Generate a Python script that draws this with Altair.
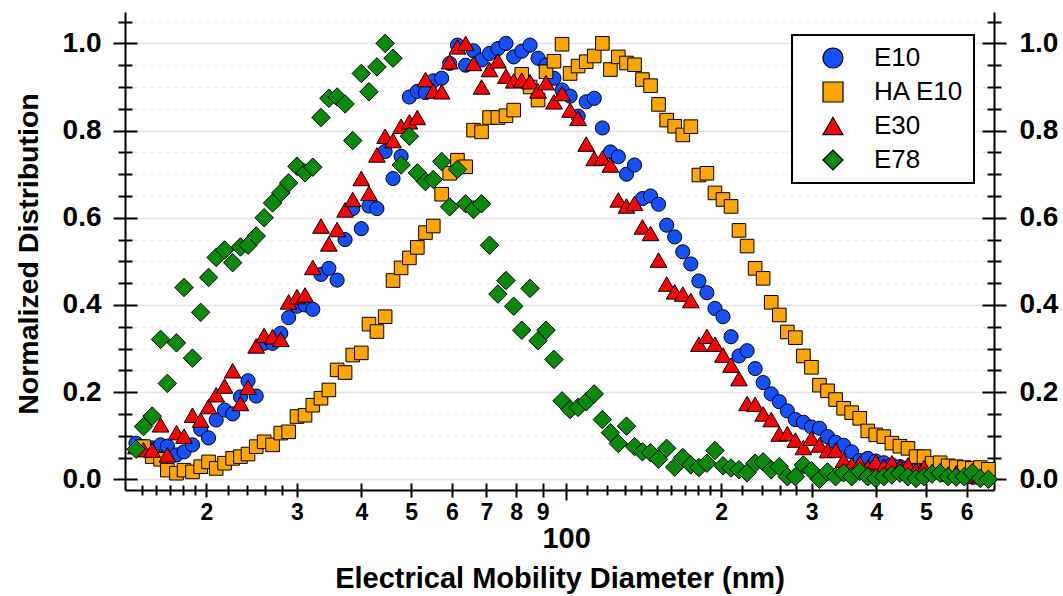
import altair as alt
import pandas as pd

# SMPS bin mid-point diameters (nm)
diameter_nm = [
    14.6, 15.1, 15.7, 16.3, 16.8, 17.5, 18.1, 18.8, 19.5, 20.2,
    20.9, 21.7, 22.5, 23.3, 24.1, 25.0, 25.9, 26.9, 27.9, 28.9,
    30.0, 31.1, 32.2, 33.4, 34.6, 35.9, 37.2, 38.5, 40.0, 41.4,
    42.9, 44.5, 46.1, 47.8, 49.6, 51.4, 53.3, 55.2, 57.3, 59.4,
    61.5, 63.8, 66.1, 68.5, 71.0, 73.7, 76.4, 79.1, 82.0, 85.1,
    88.2, 91.4, 94.7, 98.2, 101.8, 105.5, 109.4, 113.4, 117.6, 121.9,
    126.3, 131.0, 135.8, 140.7, 145.9, 151.2, 156.8, 162.5, 168.5, 174.7,
    181.1, 187.7, 194.6, 201.7, 209.1, 216.7, 224.7, 232.9, 241.4, 250.3,
    259.5, 269.0, 278.8, 289.0, 299.6, 310.6, 322.0, 333.8, 346.0, 358.7,
    371.8, 385.4, 399.5, 414.2, 429.4, 445.1, 461.4, 478.3, 495.8, 514.0,
    532.8, 552.3, 572.5, 593.5, 615.3, 637.8, 661.2,
]

e10 = [
    0.083, 0.075, 0.072, 0.079, 0.076, 0.056, 0.063, 0.079, 0.115, 0.095,
    0.136, 0.159, 0.150, 0.189, 0.226, 0.191, 0.312, 0.312, 0.335, 0.371,
    0.397, 0.400, 0.390, 0.470, 0.484, 0.457, 0.550, 0.621, 0.575, 0.627,
    0.621, 0.752, 0.690, 0.741, 0.877, 0.890, 0.887, 0.914, 0.920, 0.954,
    0.996, 0.950, 0.983, 0.962, 0.977, 0.988, 1.000, 0.969, 0.982, 0.996,
    0.966, 0.950, 0.920, 0.893, 0.879, 0.833, 0.866, 0.874, 0.806, 0.751,
    0.740, 0.700, 0.721, 0.644, 0.650, 0.631, 0.583, 0.556, 0.522, 0.494,
    0.455, 0.428, 0.392, 0.373, 0.327, 0.283, 0.295, 0.254, 0.222, 0.196,
    0.178, 0.157, 0.137, 0.131, 0.120, 0.117, 0.098, 0.085, 0.078, 0.063,
    0.043, 0.048, 0.042, 0.038, 0.033, 0.029, 0.027, 0.025, 0.020, 0.018,
    0.015, 0.012, 0.010, 0.008, 0.005, 0.003, None,
]

ha_e10 = [
    None, 0.075, 0.052, 0.046, 0.021, 0.014, 0.021, 0.017, 0.029, 0.040,
    0.025, 0.037, 0.048, 0.052, 0.058, 0.075, 0.086, 0.079, 0.106, 0.109,
    0.144, 0.147, 0.170, 0.186, 0.205, 0.251, 0.245, 0.285, 0.290, 0.356,
    0.339, 0.373, 0.456, 0.485, 0.508, 0.532, 0.566, 0.581, 0.654, 0.702,
    0.732, 0.717, 0.801, 0.797, 0.830, 0.830, 0.834, 0.847, 0.929, 0.900,
    0.870, 0.935, 0.959, 0.998, 0.931, 0.948, 0.958, 0.971, 1.000, 0.940,
    0.969, 0.955, 0.951, 0.917, 0.903, 0.860, 0.824, 0.810, 0.790, 0.809,
    0.698, 0.702, 0.657, 0.642, 0.626, 0.571, 0.535, 0.484, 0.461, 0.406,
    0.377, 0.338, 0.325, 0.283, 0.257, 0.216, 0.203, 0.183, 0.163, 0.153,
    0.140, 0.111, 0.102, 0.098, 0.083, 0.076, 0.071, 0.052, 0.052, 0.037,
    0.038, 0.031, 0.029, 0.027, 0.025, 0.027, 0.023,
]

e30 = [
    0.075, 0.068, 0.067, 0.125, 0.056, 0.107, 0.099, 0.147, 0.136, 0.167,
    0.194, 0.214, 0.249, 0.174, 0.211, 0.306, 0.330, 0.327, 0.321, 0.407,
    0.419, 0.423, 0.486, 0.581, 0.540, 0.573, 0.618, 0.642, 0.690, 0.656,
    0.744, 0.787, 0.777, 0.810, 0.820, 0.830, 0.917, 0.891, 0.889, 0.958,
    0.992, 1.000, 0.954, 0.900, 0.940, 0.960, 0.925, 0.914, 0.916, 0.912,
    0.891, 0.910, 0.866, 0.885, 0.847, 0.828, 0.769, 0.736, 0.737, 0.721,
    0.641, 0.627, 0.633, 0.579, 0.564, 0.503, 0.448, 0.430, 0.425, 0.410,
    0.310, 0.328, 0.310, 0.285, 0.262, 0.231, 0.174, 0.172, 0.150, 0.137,
    0.104, 0.105, 0.090, 0.073, 0.094, 0.079, 0.066, 0.067, 0.044, 0.033,
    0.037, 0.027, 0.040, 0.030, 0.038, 0.028, 0.033, 0.021, 0.027, 0.018,
    0.020, 0.012, 0.015, 0.010, 0.008, 0.006, None,
]

e78 = [
    0.069, 0.121, 0.145, 0.321, 0.220, 0.313, 0.440, 0.278, 0.383, 0.463,
    0.509, 0.526, 0.497, 0.533, 0.537, 0.558, 0.600, 0.634, 0.657, 0.680,
    0.718, 0.703, 0.716, 0.830, 0.874, 0.877, 0.861, 0.777, 0.931, 0.889,
    0.946, 1.000, 0.966, 0.721, 0.787, 0.703, 0.683, 0.688, 0.729, 0.625,
    0.711, 0.632, 0.619, 0.632, 0.537, 0.425, 0.456, 0.397, 0.342, 0.438,
    0.318, 0.342, 0.275, 0.180, 0.160, 0.165, 0.178, 0.196, 0.137, 0.107,
    0.082, 0.122, 0.075, 0.063, 0.061, 0.046, 0.071, 0.028, 0.050, 0.033,
    0.027, 0.037, 0.066, 0.031, 0.026, 0.022, 0.015, 0.037, 0.040, 0.022,
    0.029, 0.006, 0.006, 0.033, 0.020, 0.000, 0.017, 0.006, 0.015, 0.006,
    0.018, 0.006, 0.002, 0.006, 0.010, 0.014, 0.006, 0.002, 0.006, 0.012,
    0.014, 0.006, 0.005, 0.006, 0.015, 0.002, 0.000,
]

series_names = ["E10", "HA E10", "E30", "E78"]
series_values = [e10, ha_e10, e30, e78]
series_colors = ["#1450FF", "#FFA500", "#FF0000", "#0A8A0A"]
series_shapes = ["circle", "square", "triangle-up", "diamond"]
series_sizes = [200, 185, 280, 340]

# axis tick positions
x_major = [20, 30, 40, 50, 60, 70, 80, 90, 200, 300, 400, 500, 600]
x_minor = [15, 16, 17, 18, 19, 22, 24, 26, 28,
           110, 120, 130, 140, 150, 160, 170, 180, 190, 220, 240, 260, 280]
y_major = [0.0, 0.2, 0.4, 0.6, 0.8, 1.0]
y_minor = [0.05, 0.1, 0.15, 0.25, 0.3, 0.35, 0.45, 0.5, 0.55, 0.65, 0.7, 0.75,
           0.85, 0.9, 0.95, 1.05]


def series_frame(name, vals):
    recs = [{"series": name, "diameter": d, "value": v}
            for d, v in zip(diameter_nm, vals) if v is not None]
    return pd.DataFrame(recs)


frames = [series_frame(n, v) for n, v in zip(series_names, series_values)]
df_all = pd.concat(frames, ignore_index=True)

FONT = "Liberation Sans"
W, H = 869, 478

xs = alt.Scale(type="log", domain=[13.9, 678.0], nice=False)
ys = alt.Scale(domain=[-0.0245, 1.072], nice=False, zero=False)
color_scale = alt.Scale(domain=series_names, range=series_colors)
shape_scale = alt.Scale(domain=series_names, range=series_shapes)

base_axis = dict(
    tickColor="black", tickWidth=2, domainColor="black", domainWidth=2,
    labelFont=FONT, labelColor="black", labelFontWeight="bold",
    labelFlush=False, labelOverlap=False,
)


def tick_axis(orient, values, size, offset=0, grid=False, dash=None, grid_color="#e4e4e4"):
    kw = dict(base_axis)
    kw.update(orient=orient, values=values, tickSize=size, labels=False,
              domain=False, grid=grid, title=None, offset=offset)
    if grid:
        kw.update(gridColor=grid_color, gridWidth=1.2)
        if dash:
            kw.update(gridDash=dash)
    return alt.Axis(**kw)


x_main = alt.Axis(
    **base_axis, orient="bottom", values=x_major, tickSize=7,
    labelExpr="datum.value < 100 ? datum.value / 10 : datum.value / 100",
    labelFontSize=23, labelPadding=4, grid=False,
    title="Electrical Mobility Diameter (nm)", titleFont=FONT, titleFontSize=29,
    titleFontWeight="bold", titleColor="black", titleX=W / 2, titleY=88,
    titleBaseline="middle",
)
x_hundred = alt.Axis(
    **base_axis, orient="bottom", values=[100],
    tickSize=10, labelExpr="'100'", labelFontSize=29, labelPadding=24,
    domain=False, grid=False, title=None,
)
y_left = alt.Axis(
    **base_axis, orient="left", values=y_major, format=".1f", tickSize=12,
    labelFontSize=28, labelPadding=12, grid=True, gridColor="#e2e2e2", gridWidth=1.5,
    title="Normalized Distribution", titleFont=FONT, titleFontSize=28.5,
    titleFontWeight="bold", titleColor="black", titleX=-97, titleY=241.5,
    titleBaseline="middle", titleAngle=-90,
)
y_right = alt.Axis(
    **base_axis, orient="right", values=y_major, format=".1f", tickSize=12,
    labelFontSize=28, labelPadding=13, grid=False, title=None,
)

legend = alt.Legend(
    title=None, orient="none", legendX=667, legendY=23, direction="vertical",
    strokeColor="black", fillColor="white", padding=10,
    labelFont=FONT, labelFontSize=26, labelColor="black", labelOffset=28,
    symbolSize=400, symbolStrokeColor="black", symbolStrokeWidth=1.2,
    symbolOffset=18, rowPadding=8,
)


def series_layer(i, x_axis, y_axis):
    return alt.Chart(frames[i]).mark_point(
        filled=True, opacity=1, stroke="black", strokeWidth=1, size=series_sizes[i]
    ).encode(
        x=alt.X("diameter:Q", scale=xs, axis=x_axis),
        y=alt.Y("value:Q", scale=ys, axis=y_axis),
        color=alt.Color("series:N", scale=color_scale, legend=legend),
        shape=alt.Shape("series:N", scale=shape_scale, legend=legend),
    )


def guide(x_axis, y_axis):
    return alt.Chart(df_all).mark_point(opacity=0).encode(
        x=alt.X("diameter:Q", scale=xs, axis=x_axis),
        y=alt.Y("value:Q", scale=ys, axis=y_axis),
    )


layers = [
    guide(x_hundred, tick_axis("left", y_minor, 7, grid=True, dash=[4, 4], grid_color="#ececec")),
    guide(tick_axis("bottom", x_minor, 5), tick_axis("left", y_major, 12, offset=-12)),
    guide(tick_axis("bottom", x_major + [100], 7, offset=-7), tick_axis("left", y_minor, 7, offset=-7)),
    guide(tick_axis("bottom", x_minor, 5, offset=-5), y_right),
    guide(None, tick_axis("right", y_minor, 7)),
    guide(None, tick_axis("right", y_major, 12, offset=-12)),
    guide(None, tick_axis("right", y_minor, 7, offset=-7)),
    series_layer(0, x_main, y_left),
    series_layer(1, None, None),
    series_layer(2, None, None),
    series_layer(3, None, None),
]

chart = alt.layer(*layers).resolve_axis(x="independent", y="independent").properties(
    width=W, height=H,
    autosize=alt.AutoSizeParams(type="none"),
    padding={"left": 125, "top": 12, "right": 69, "bottom": 106},
    background="white",
).configure_view(stroke=None).configure_legend(strokeWidth=2)

chart.save("out.html", embed_options={"renderer": "svg", "actions": False})
